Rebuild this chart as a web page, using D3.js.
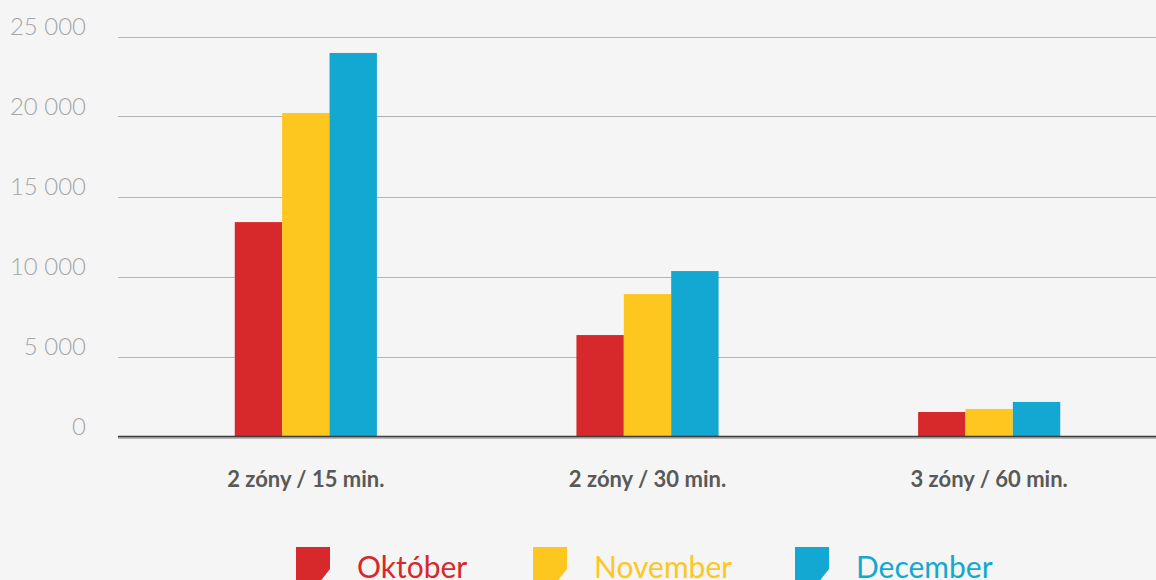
<!DOCTYPE html>
<html>
<head>
<meta charset="utf-8">
<script src="https://cdn.jsdelivr.net/npm/d3@7"></script>
<style>
  html, body { margin: 0; padding: 0; background: #f4f5f4; }
  svg { display: block; }
</style>
</head>
<body>
<div id="chart"></div>
<script>
// data
var categories = ["2 zóny / 15 min.", "2 zóny / 30 min.", "3 zóny / 60 min."];
var seriesNames = ["Október", "November", "December"];
var oktober  = [13400, 6340, 1530];
var november = [20220, 8900, 1720];
var december = [23970, 10340, 2160];
var yTicks = [0, 5000, 10000, 15000, 20000, 25000];
var colors = ["#d7292c", "#fdc71f", "#13a8d2"];

var W = 1156, H = 580;
var series = [oktober, november, december];

var svg = d3.select("#chart").append("svg")
    .attr("width", W).attr("height", H);

svg.append("rect").attr("width", W).attr("height", H).attr("fill", "#f4f5f4");

var y = d3.scaleLinear().domain([0, 25000]).range([436.5, 36.5]);
var x = d3.scaleBand().domain(categories).range([135, 1160])
    .paddingInner(0.584).paddingOuter(0.292);
var xs = d3.scaleBand().domain(d3.range(seriesNames.length)).range([0, x.bandwidth()]);

// grid lines
svg.selectAll("line.grid").data(yTicks.filter(function(d){ return d > 0; }))
  .enter().append("line")
    .attr("class", "grid")
    .attr("x1", 118).attr("x2", W)
    .attr("y1", function(d){ return Math.round(y(d)) + 0.5; })
    .attr("y2", function(d){ return Math.round(y(d)) + 0.5; })
    .attr("stroke", "#b3b3b3").attr("stroke-width", 1.2);

// y labels
var fmt = function(d){ return d3.format(",")(d).replace(",", " "); };
svg.selectAll("text.ytick").data(yTicks)
  .enter().append("text")
    .attr("class", "ytick")
    .attr("x", 86)
    .attr("y", function(d){ return y(d) - 2; })
    .attr("text-anchor", "end")
    .attr("font-family", "Lato, 'Open Sans', sans-serif")
    .attr("font-weight", 300)
    .attr("font-size", "24px")
    .attr("fill", "#a6a6a6")
    .text(fmt);

// bars
var groups = svg.selectAll("g.cat").data(categories)
  .enter().append("g")
    .attr("class", "cat")
    .attr("transform", function(d){ return "translate(" + x(d) + ",0)"; });

groups.selectAll("rect").data(function(d, i){
    return series.map(function(s, j){ return {k: j, v: s[i]}; });
  })
  .enter().append("rect")
    .attr("x", function(d){ return xs(d.k); })
    .attr("width", xs.bandwidth())
    .attr("y", function(d){ return y(d.v); })
    .attr("height", function(d){ return y(0) - y(d.v); })
    .attr("fill", function(d){ return colors[d.k]; });

// baseline
svg.append("line").attr("x1", 118).attr("x2", W)
    .attr("y1", 438).attr("y2", 438)
    .attr("stroke", "#b8b8b8").attr("stroke-width", 2);
svg.append("line").attr("x1", 118).attr("x2", W)
    .attr("y1", 436.5).attr("y2", 436.5)
    .attr("stroke", "#3a3a3a").attr("stroke-width", 1.5);

// category labels
svg.selectAll("text.cat").data(categories)
  .enter().append("text")
    .attr("class", "cat")
    .attr("x", function(d){ return x(d) + x.bandwidth() / 2; })
    .attr("y", 487)
    .attr("text-anchor", "middle")
    .attr("font-family", "Lato, 'Open Sans', sans-serif")
    .attr("font-weight", 700)
    .attr("font-size", "22px")
    .attr("fill", "#595959")
    .text(function(d){ return d; });

// legend
var legX = [296, 533, 795];
var leg = svg.selectAll("g.leg").data(seriesNames)
  .enter().append("g")
    .attr("class", "leg")
    .attr("transform", function(d, i){ return "translate(" + legX[i] + ",547)"; });

leg.append("path")
    .attr("d", "M0,0H34V22L23,36H0Z")
    .attr("fill", function(d, i){ return colors[i]; });

leg.append("text")
    .attr("x", 61)
    .attr("y", 31)
    .attr("font-family", "Lato, 'Open Sans', sans-serif")
    .attr("font-size", "30px")
    .attr("fill", function(d, i){ return colors[i]; })
    .text(function(d){ return d; });
</script>
</body>
</html>
